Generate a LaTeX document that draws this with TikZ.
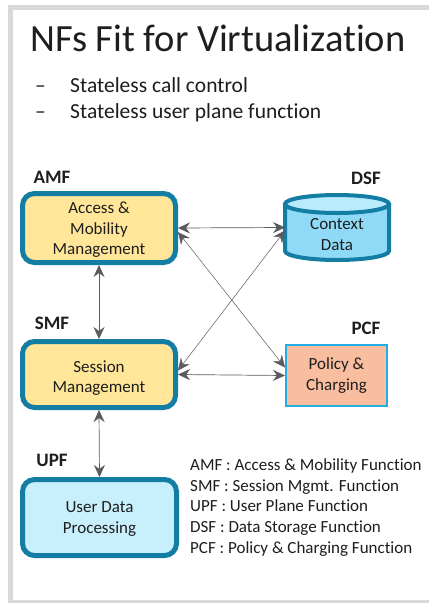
\documentclass[tikz,border=0pt]{standalone}
\usepackage{fontspec}
\setmainfont{Carlito}[Ligatures=NoCommon]
\usetikzlibrary{arrows.meta,calc}

\definecolor{framegray}{HTML}{D9D9D9}
\definecolor{nfborder}{HTML}{137DA3}
\definecolor{nfyellow}{HTML}{FFE699}
\definecolor{upfcyan}{HTML}{C8EFFC}
\definecolor{dsfbody}{HTML}{8FDAF6}
\definecolor{dsftop}{HTML}{B8EBFB}
\definecolor{pcfsalmon}{HTML}{F9BDA0}
\definecolor{pcfborder}{HTML}{1FAEE3}
\definecolor{arrowgray}{HTML}{5A5B5F}
\definecolor{txt}{HTML}{1E1E1E}

\tikzset{
  boxtext/.style={font=\fontsize{17}{20.6}\selectfont, text=txt, align=center},
  nfbox/.style={boxtext, draw=nfborder, line width=5pt, rounded corners=12pt, inner sep=0pt},
  nflabel/.style={font=\fontsize{19}{22}\selectfont\bfseries, text=txt},
  bullet/.style={anchor=base west, inner sep=0pt, font=\fontsize{21.5}{26}\selectfont, text=txt},
  conn/.style={draw=arrowgray, line width=0.7pt,
    {Stealth[length=12pt,width=11pt,inset=4pt]}-{Stealth[length=12pt,width=11pt,inset=4pt]}},
}

\begin{document}
\begin{tikzpicture}[x=1pt,y=-1pt]
\useasboundingbox (0,0) rectangle (429,603);
% slide frame
\fill[framegray] (8,5) rectangle (429,603);
\fill[white] (13,10) rectangle (429,600);

% heading and bullets
\node[anchor=base west, inner sep=0pt, font=\fontsize{38.5}{44}\selectfont, text=txt] (title) at (30,51) {NFs Fit for Virtualization};
\node[bullet] (d1) at (35,92) {–};
\node[bullet] (b1) at (70,92) {Stateless call control};
\node[bullet] (d2) at (35,118) {–};
\node[bullet] (b2) at (70,118) {Stateless user plane function};

% network functions
\node[nfbox, fill=nfyellow, minimum width=153pt, minimum height=69pt] (amf) at (99,228) {};
\node[boxtext] (amftext) at (99,230) {Access \&\\Mobility\\Management};
\node[nfbox, fill=nfyellow, minimum width=153pt, minimum height=66pt] (smf) at (99,374.5) {};
\node[boxtext] (smftext) at (99,378) {Session\\Management};
\node[nfbox, fill=upfcyan, minimum width=154pt, minimum height=76pt] (upf) at (99.5,517.5) {};
\node[boxtext] (upftext) at (99.5,519) {User Data\\Processing};
\node[boxtext, draw=pcfborder, line width=2pt, fill=pcfsalmon, minimum width=101pt, minimum height=61pt, inner sep=0pt] (pcf) at (336.5,375.5) {Policy \&\\Charging};

% data store cylinder
\draw[nfborder, line width=4pt, fill=dsfbody] (285,204) -- (285,251) arc[start angle=180, end angle=0, x radius=52, y radius=9] -- (389,204);
\draw[nfborder, line width=4pt, fill=dsftop] (337,204) ellipse[x radius=52, y radius=9];
\node[minimum width=104pt, minimum height=65pt, inner sep=0pt, outer sep=0pt] (dsf) at (337,227.5) {};
\node[boxtext] (dsftext) at (337,234.5) {Context\\Data};

% function names
\node[nflabel] (amflabel) at (52,177) {AMF};
\node[nflabel] (smflabel) at (52,323) {SMF};
\node[nflabel] (upflabel) at (52,460) {UPF};
\node[nflabel] (dsflabel) at (366,178) {DSF};
\node[nflabel] (pcflabel) at (366,328) {PCF};

% interfaces
\draw[conn] (amf.south) -- (smf.north);
\draw[conn] (smf.south) -- (upf.north);
\draw[conn] (amf.east) -- (dsf.west);
\draw[conn] (smf.east) -- (pcf.west);
\draw[conn, line width=0.5pt] ($(amf.east)+(0,4)$) -- ($(pcf.west)+(0,-8)$);
\draw[conn, line width=0.5pt] ($(smf.east)+(0,-4)$) -- ($(dsf.west)+(0,3)$);

% legend
\node[anchor=west, inner sep=0pt, align=left, font=\fontsize{17}{20.8}\selectfont, text=txt] (legend) at (190,507.5)
  {AMF : Access \& Mobility Function\\
   SMF : Session Mgmt. Function\\
   UPF : User Plane Function\\
   DSF : Data Storage Function\\
   PCF : Policy \& Charging Function};
\end{tikzpicture}
\end{document}
